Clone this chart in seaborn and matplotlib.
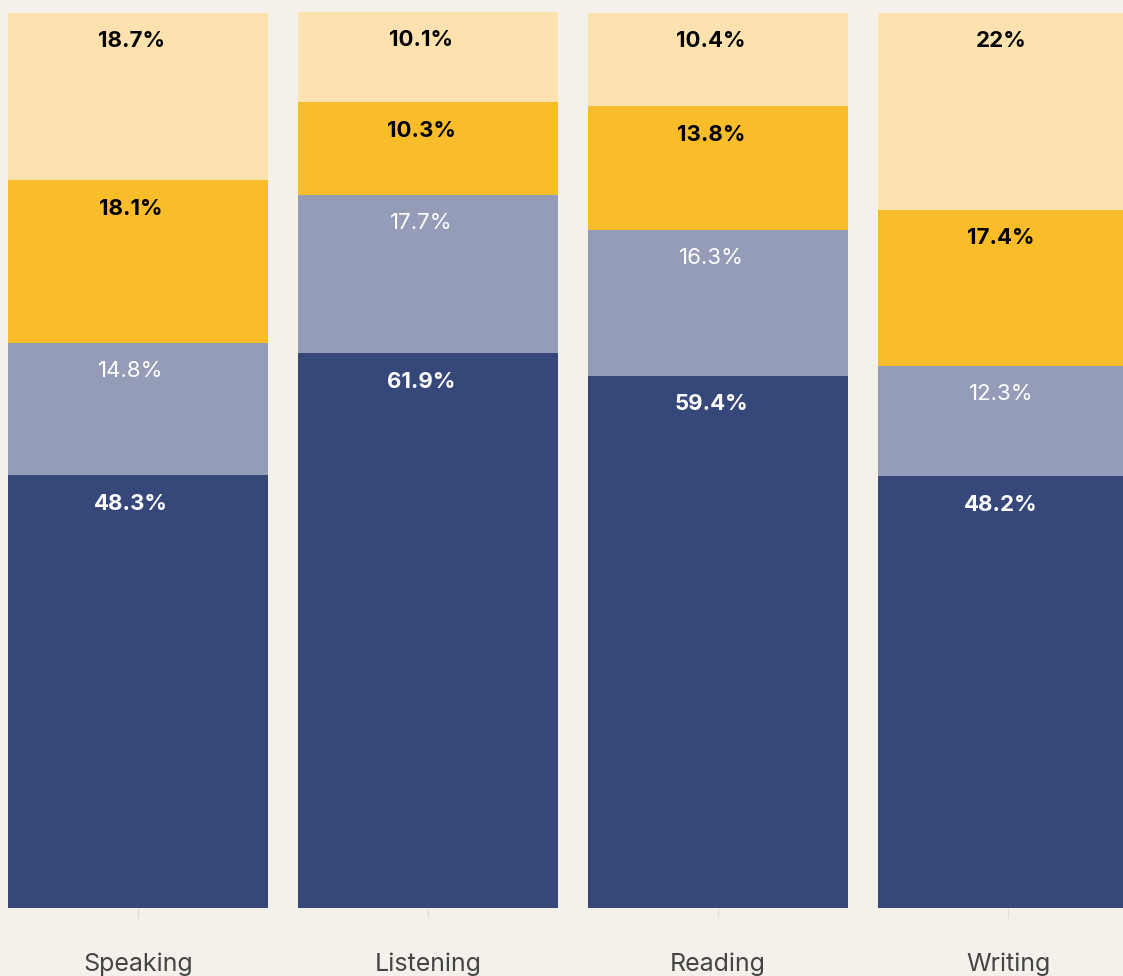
import matplotlib
matplotlib.use("Agg")
import matplotlib.pyplot as plt
import numpy as np
import pandas as pd
import seaborn as sns

skills = ["Speaking", "Listening", "Reading", "Writing"]
level1 = [48.3, 61.9, 59.4, 48.2]
level2 = [14.8, 17.7, 16.3, 12.3]
level3 = [18.1, 10.3, 13.8, 17.4]
level4 = [18.7, 10.1, 10.4, 22.0]
label4 = ["18.7%", "10.1%", "10.4%", "22%"]

series = [level1, level2, level3, level4]
colors = ["#36477A", "#949CB7", "#F8BD29", "#FDE2B0"]
text_colors = ["white", "white", "black", "black"]
text_weights = ["bold", "normal", "bold", "bold"]

sns.set_theme(style="white")
plt.rcParams["font.family"] = ["Inter", "DejaVu Sans"]

bg = "#F4F1EA"
fig = plt.figure(figsize=(11.23, 9.76), dpi=100, facecolor=bg)
ax = fig.add_axes([0, 68 / 976, 1, (908 - 12) / 976])
ax.set_facecolor(bg)

bottom = np.zeros(len(skills))
for i, vals in enumerate(series):
    df = pd.DataFrame({"skill": skills, "pct": vals})
    sns.barplot(data=df, x="skill", y="pct", color=colors[i], bottom=bottom,
                width=260 / 290, saturation=1, ax=ax, errorbar=None,
                linewidth=0, edgecolor="none")
    tops = bottom + np.array(vals)
    for j, v in enumerate(vals):
        txt = label4[j] if i == 3 else f"{v}%"
        ax.annotate(txt, (j, tops[j]), xytext=(-5, -20.5), textcoords="offset points",
                    ha="center", va="center", fontsize=16, color=text_colors[i],
                    fontweight=text_weights[i], annotation_clip=False)
    bottom = tops

ax.set_xlim(-138 / 290, (1123 - 138) / 290)
ax.set_ylim(0, 100)
ax.set_xlabel("")
ax.set_ylabel("")
ax.set_yticks([])
for s in ax.spines.values():
    s.set_visible(False)
ax.tick_params(axis="x", bottom=True, length=7, width=1, color="#E2DDD4",
               pad=25, labelsize=18, labelcolor="#444444")

fig.savefig("out.png", dpi=100, facecolor=bg)
